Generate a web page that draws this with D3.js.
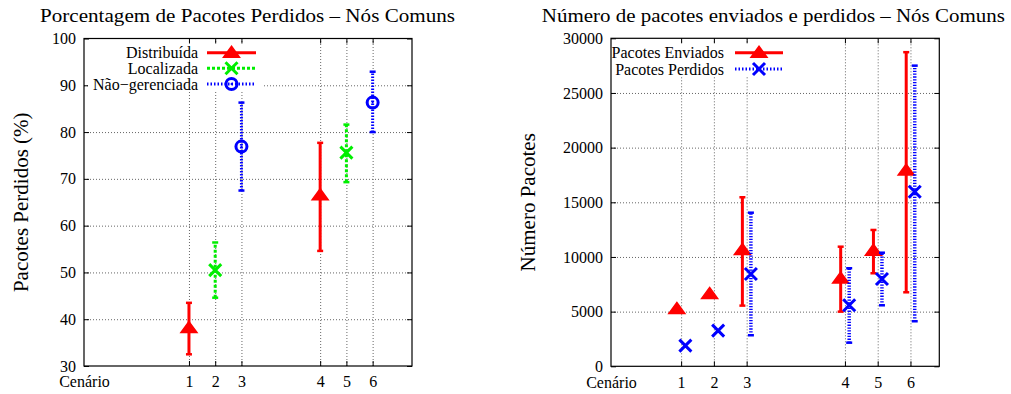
<!DOCTYPE html>
<html>
<head>
<meta charset="utf-8">
<script src="https://cdn.jsdelivr.net/npm/d3@7"></script>
<style>
  body { margin: 0; background: #fff; }
  svg { display: block; font-family: 'Liberation Serif', 'DejaVu Serif', serif; }
</style>
</head>
<body>
<div id="canvas"></div>
<script>
// cenários e posição no eixo x (há um espaço entre o 3 e o 4)
const cenarios = ['1', '2', '3', '4', '5', '6']
const posicoes = [1, 2, 3, 6, 7, 8]

// porcentagem de pacotes perdidos
const distCenarios = ['1', '4']
const distMedia = [38.1, 66.5]
const distMin = [32.5, 54.6]
const distMax = [43.5, 77.7]

const locCenarios = ['2', '5']
const locMedia = [50.5, 75.6]
const locMin = [44.6, 69.3]
const locMax = [56.4, 81.6]

const naoCenarios = ['3', '6']
const naoMedia = [76.9, 86.3]
const naoMin = [67.5, 80.0]
const naoMax = [86.3, 92.9]

const pctTicks = [30, 40, 50, 60, 70, 80, 90, 100]

// número de pacotes enviados e perdidos
const enviadosMedia = [5240, 6620, 10640, 8020, 10580, 17900]
const enviadosMin = [null, null, 5550, 5000, 8510, 6770]
const enviadosMax = [null, null, 15460, 10940, 12470, 28730]

const perdidosMedia = [1890, 3260, 8440, 5580, 7990, 15970]
const perdidosMin = [null, null, 2840, 2160, 5580, 4120]
const perdidosMax = [null, null, 14050, 8970, 10390, 27500]

const numTicks = [0, 5000, 10000, 15000, 20000, 25000, 30000]

const width = 1011
const height = 394

const svg = d3.select('#canvas')
  .append('svg')
    .attr('width', width)
    .attr('height', height)

const pos = c => posicoes[cenarios.indexOf(c)]

const trianglePath = 'M0,-6.5L8,4.5L-8,4.5Z'
const crossPath = 'M-6,-6L6,6M-6,6L6,-6'

function drawMarker(g, type, color, cx, cy) {
  if (type === 'triangle') {
    g.append('path')
      .attr('transform', `translate(${cx},${cy})`)
      .attr('d', trianglePath)
      .attr('fill', color)
      .attr('stroke', color)
      .attr('stroke-width', 1.5)
  } else if (type === 'cross') {
    g.append('path')
      .attr('transform', `translate(${cx},${cy})`)
      .attr('d', crossPath)
      .attr('fill', 'none')
      .attr('stroke', color)
      .attr('stroke-width', 3)
  } else {
    g.append('circle')
      .attr('cx', cx).attr('cy', cy).attr('r', 5.5)
      .attr('fill', 'none')
      .attr('stroke', color)
      .attr('stroke-width', 3)
    g.append('circle')
      .attr('cx', cx).attr('cy', cy).attr('r', 1)
      .attr('fill', color)
  }
}

function errorBar(g, color, dash, barWidth, cx, y0, y1) {
  g.append('line')
    .attr('x1', cx).attr('x2', cx)
    .attr('y1', y0).attr('y2', y1)
    .attr('stroke', color)
    .attr('stroke-width', barWidth)
    .attr('stroke-dasharray', dash)
  ;[y0, y1].forEach(y => {
    g.append('line')
      .attr('x1', cx - 3).attr('x2', cx + 3)
      .attr('y1', y).attr('y2', y)
      .attr('stroke', color)
      .attr('stroke-width', 2.5)
  })
}

function frame(g, x, y, yTicks, yFmt, xLeft, left, right, top, bottom) {
  const scenarioPos = posicoes
  // grade pontilhada
  g.append('g')
    .attr('transform', `translate(${left},0)`)
    .call(d3.axisLeft(y).tickValues(yTicks.slice(1, -1)).tickSize(-(right - left)).tickFormat(''))
    .call(s => s.select('.domain').remove())
    .selectAll('line')
      .attr('stroke', '#666')
      .attr('stroke-dasharray', '1,2')
  g.append('g')
    .attr('transform', `translate(0,${bottom})`)
    .call(d3.axisBottom(x).tickValues(scenarioPos).tickSize(-(bottom - top)).tickFormat(''))
    .call(s => s.select('.domain').remove())
    .selectAll('line')
      .attr('stroke', '#666')
      .attr('stroke-dasharray', '1,2')

  // rótulos do eixo y
  g.append('g')
    .attr('transform', `translate(${left},0)`)
    .attr('font-family', null)
    .call(d3.axisLeft(y).tickValues(yTicks).tickSize(0).tickPadding(8).tickFormat(yFmt))
    .call(s => s.select('.domain').remove())
    .selectAll('text')
      .attr('font-family', 'Liberation Serif')
      .attr('font-size', 16)
      .attr('fill', '#000')

  // rótulos do eixo x
  const xVals = [xLeft].concat(scenarioPos)
  const xLabels = ['Cenário'].concat(cenarios)
  g.append('g')
    .attr('transform', `translate(0,${bottom})`)
    .call(d3.axisBottom(x).tickValues(xVals).tickSize(0).tickPadding(10)
      .tickFormat((d, i) => xLabels[i]))
    .call(s => s.select('.domain').remove())
    .selectAll('text')
      .attr('font-family', 'Liberation Serif')
      .attr('font-size', 16)
      .attr('fill', '#000')

  // marcas internas espelhadas
  const tick = (axis, tx, ty) => g.append('g')
    .attr('transform', `translate(${tx},${ty})`)
    .call(axis.tickSize(-5).tickFormat(''))
    .call(s => s.select('.domain').remove())
    .selectAll('line').attr('stroke', '#000')
  tick(d3.axisLeft(y).tickValues(yTicks), left, 0)
  tick(d3.axisRight(y).tickValues(yTicks), right, 0)
  tick(d3.axisBottom(x).tickValues(scenarioPos), 0, bottom)
  tick(d3.axisTop(x).tickValues(scenarioPos), 0, top)
}

function border(g, left, right, top, bottom) {
  g.append('rect')
    .attr('x', left).attr('y', top)
    .attr('width', right - left).attr('height', bottom - top)
    .attr('fill', 'none')
    .attr('stroke', '#000')
    .attr('stroke-width', 1.2)
}

function legend(g, items, textRight, lineX0, lineX1, ys, boxX, boxY, boxW, boxH) {
  g.append('rect')
    .attr('x', boxX).attr('y', boxY)
    .attr('width', boxW).attr('height', boxH)
    .attr('fill', '#fff')
  items.forEach((it, i) => {
    g.append('text')
      .attr('x', textRight)
      .attr('y', ys[i])
      .attr('dy', '0.35em')
      .attr('text-anchor', 'end')
      .attr('font-size', 16)
      .text(it.label)
    g.append('line')
      .attr('x1', lineX0).attr('x2', lineX1)
      .attr('y1', ys[i]).attr('y2', ys[i])
      .attr('stroke', it.color)
      .attr('stroke-width', 3)
      .attr('stroke-dasharray', it.dash)
    drawMarker(g, it.marker, it.color, (lineX0 + lineX1) / 2, ys[i])
  })
}

function title(g, cx, txt, len) {
  g.append('text')
    .attr('x', cx)
    .attr('y', 21.5)
    .attr('text-anchor', 'middle')
    .attr('font-size', 19)
    .attr('textLength', len)
    .attr('lengthAdjust', 'spacingAndGlyphs')
    .text(txt)
}

// ---------- gráfico da esquerda ----------
{
  const L = 84, R = 412, T = 38.5, B = 366
  const g = svg.append('g')
  const x = d3.scaleLinear().domain([-3, 9.5]).range([L, R])
  const y = d3.scaleLinear().domain([30, 100]).range([B, T])

  frame(g, x, y, pctTicks, d => d, -3, L, R, T, B)

  legend(g, [
    { label: 'Distribuída', color: '#ff0000', dash: null, marker: 'triangle' },
    { label: 'Localizada', color: '#00ee00', dash: '3,2', marker: 'cross' },
    { label: 'Não−gerenciada', color: '#0000ff', dash: '1.5,2', marker: 'circle' }
  ], 198, 207, 256, [52.7, 68.3, 84], 88, 44, 176, 48)

  const series = [
    { c: distCenarios, m: distMedia, lo: distMin, hi: distMax, color: '#ff0000', dash: null, marker: 'triangle' },
    { c: locCenarios, m: locMedia, lo: locMin, hi: locMax, color: '#00ee00', dash: '3,2', marker: 'cross' },
    { c: naoCenarios, m: naoMedia, lo: naoMin, hi: naoMax, color: '#0000ff', dash: '1.5,1.5', marker: 'circle' }
  ]
  series.forEach(s => {
    s.c.forEach((c, i) => {
      const cx = x(pos(c))
      errorBar(g, s.color, s.dash, 3, cx, y(s.lo[i]), y(s.hi[i]))
      drawMarker(g, s.marker, s.color, cx, y(s.m[i]))
    })
  })

  border(g, L, R, T, B)

  title(g, 247.5, 'Porcentagem de Pacotes Perdidos – Nós Comuns', 415)

  g.append('text')
    .attr('transform', `translate(28,${(T + B) / 2}) rotate(-90)`)
    .attr('text-anchor', 'middle')
    .attr('font-size', 21)
    .text('Pacotes Perdidos (%)')
}

// ---------- gráfico da direita ----------
{
  const L = 611, R = 939.3, T = 38.3, B = 366.3
  const g = svg.append('g')
  const x = d3.scaleLinear().domain([-1.14, 8.88]).range([L, R])
  const y = d3.scaleLinear().domain([0, 30000]).range([B, T])
  const off = 0.13

  frame(g, x, y, numTicks, d => d, -1.14, L, R, T, B)

  legend(g, [
    { label: 'Pacotes Enviados', color: '#ff0000', dash: null, marker: 'triangle' },
    { label: 'Pacotes Perdidos', color: '#0000ff', dash: '1.5,2', marker: 'cross' }
  ], 724, 735, 783, [52.7, 69], 614, 44, 176, 33)

  cenarios.forEach((c, i) => {
    const cx = x(pos(c) - off)
    if (enviadosMin[i] !== null) {
      errorBar(g, '#ff0000', null, 3, cx, y(enviadosMin[i]), y(enviadosMax[i]))
    }
    drawMarker(g, 'triangle', '#ff0000', cx, y(enviadosMedia[i]))
  })
  cenarios.forEach((c, i) => {
    const cx = x(pos(c) + off)
    if (perdidosMin[i] !== null) {
      errorBar(g, '#0000ff', '1.3,1.5', 3.5, cx, y(perdidosMin[i]), y(perdidosMax[i]))
    }
    drawMarker(g, 'cross', '#0000ff', cx, y(perdidosMedia[i]))
  })

  border(g, L, R, T, B)

  title(g, 773.3, 'Número de pacotes enviados e perdidos – Nós Comuns', 463)

  g.append('text')
    .attr('transform', `translate(535,${(T + B) / 2}) rotate(-90)`)
    .attr('text-anchor', 'middle')
    .attr('font-size', 21)
    .text('Número Pacotes')
}
</script>
</body>
</html>
